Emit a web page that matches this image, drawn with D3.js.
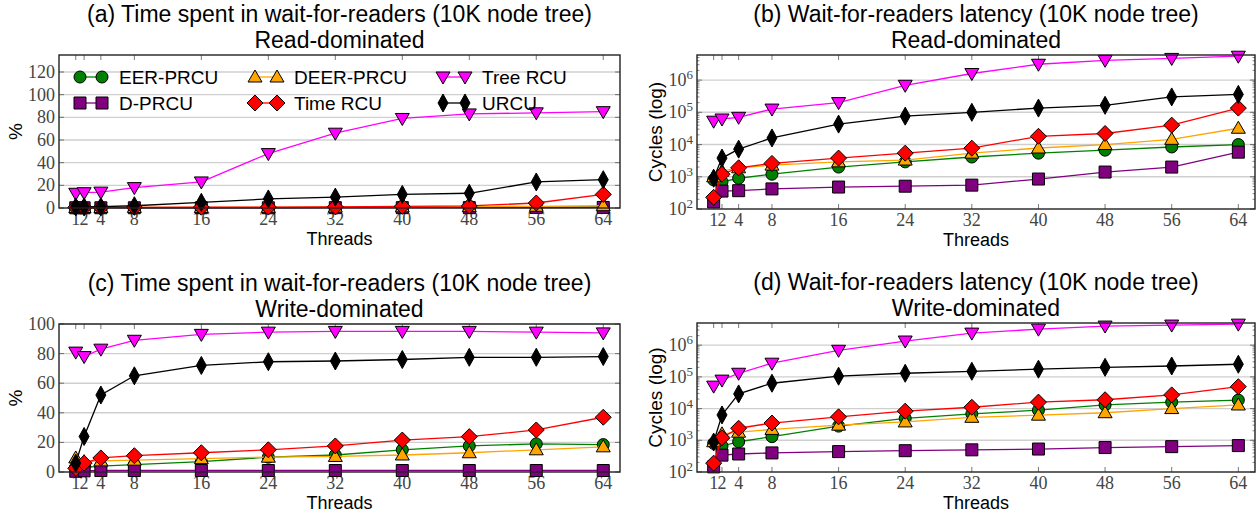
<!DOCTYPE html>
<html>
<head>
<meta charset="utf-8">
<script src="https://cdn.jsdelivr.net/npm/d3@7"></script>
<style>
body { margin: 0; background: #fff; }
svg { display: block; }
</style>
</head>
<body>
<script>
// thread counts on the x axis
const threads = [1, 2, 4, 8, 16, 24, 32, 40, 48, 56, 64];

const seriesNames = ["EER-PRCU", "D-PRCU", "DEER-PRCU", "Time RCU", "Tree RCU", "URCU"];
const seriesColors = ["#008000", "#800080", "#ffa500", "#ff0000", "#ff00ff", "#000000"];
const seriesShapes = ["circle", "square", "triUp", "diamond", "triDown", "thinDiamond"];

// (a) % time in wait-for-readers, read-dominated
const aEER   = [0.3, 0.3, 0.3, 0.3, 0.4, 0.4, 0.5, 0.6, 0.7, 0.8, 1.0];
const aDPRCU = [0.2, 0.2, 0.2, 0.2, 0.2, 0.2, 0.3, 0.3, 0.3, 0.4, 0.5];
const aDEER  = [0.4, 0.4, 0.4, 0.5, 0.5, 0.6, 0.8, 1.0, 1.2, 1.5, 2.0];
const aTime  = [0.5, 0.5, 0.5, 0.6, 0.7, 0.8, 1.0, 1.5, 1.8, 4.4, 12];
const aTree  = [13, 13.5, 14, 18, 23, 48, 66, 79, 83, 84, 85];
const aURCU  = [1, 1, 1.2, 2, 5, 8, 9.6, 12, 13, 23, 25];

// (b) wait-for-readers latency in cycles, read-dominated
const bEER   = [800, 700, 900, 1200, 2000, 2900, 4100, 5400, 6700, 8400, 10000];
const bDPRCU = [165, 360, 370, 420, 480, 510, 550, 850, 1400, 2000, 5800];
const bDEER  = [1000, 1500, 1900, 2300, 2900, 3300, 5400, 7800, 10000, 14500, 32000];
const bTime  = [230, 1200, 1900, 2600, 3800, 5400, 7700, 18000, 22000, 40000, 135000];
const bTree  = [53000, 62000, 70000, 126000, 200000, 690000, 1600000, 3100000, 4100000, 4700000, 5500000];
const bURCU  = [900, 3800, 7200, 16000, 43000, 76000, 100000, 135000, 165000, 300000, 360000];

// (c) % time in wait-for-readers, write-dominated
const cEER   = [3, 3, 4, 5, 7, 10, 11.5, 15, 17.6, 19, 18.5];
const cDPRCU = [0.5, 0.8, 1, 1, 1, 1, 1, 1, 1, 1, 1];
const cDEER  = [9.5, 7, 7.5, 8, 9, 10, 10.5, 11.5, 13, 15, 17];
const cTime  = [2.5, 6, 9.5, 11, 13, 15, 17.6, 21.6, 23.9, 28.4, 37];
const cTree  = [81, 78, 83, 89, 93, 94.5, 95, 95, 95, 94.5, 94];
const cURCU  = [6, 24, 52, 65, 72, 74.5, 75, 76, 77.5, 77.5, 78];

// (d) wait-for-readers latency in cycles, write-dominated
const dEER   = [800, 660, 900, 1300, 2800, 4900, 6800, 8900, 13000, 16000, 18500];
const dDPRCU = [145, 340, 370, 400, 440, 470, 500, 530, 590, 630, 680];
const dDEER  = [900, 1600, 1800, 2200, 3000, 3800, 5300, 6200, 7400, 10000, 13000];
const dTime  = [190, 1200, 2400, 3500, 5500, 8300, 11000, 16000, 19000, 27000, 49000];
const dTree  = [51000, 79000, 130000, 270000, 690000, 1350000, 2400000, 3200000, 4000000, 4300000, 4600000];
const dURCU  = [880, 6300, 29000, 63000, 105000, 130000, 150000, 175000, 200000, 220000, 250000];

const pctTicks = [0, 20, 40, 60, 80, 100, 120];
const logTicks = [1e2, 1e3, 1e4, 1e5, 1e6];

const W = 1260, H = 512;
const sans = "'Liberation Sans', Arial, sans-serif";
const serif = "'Liberation Serif', 'DejaVu Serif', serif";

const svg = d3.select("body").append("svg")
    .attr("width", W)
    .attr("height", H);

const panels = [
    { title: "(a) Time spent in wait-for-readers (10K node tree)", sub: "Read-dominated",
      box: [59, 620, 55, 208], log: false, ymax: 135, ylabel: "%",
      data: [aEER, aDPRCU, aDEER, aTime, aTree, aURCU], legend: true },
    { title: "(b) Wait-for-readers latency (10K node tree)", sub: "Read-dominated",
      box: [697, 1255, 55, 209], log: true, ymax: 6e6, ylabel: "Cycles (log)",
      data: [bEER, bDPRCU, bDEER, bTime, bTree, bURCU] },
    { title: "(c) Time spent in wait-for-readers (10K node tree)", sub: "Write-dominated",
      box: [59, 620, 324, 472], log: false, ymax: 100, ylabel: "%",
      data: [cEER, cDPRCU, cDEER, cTime, cTree, cURCU] },
    { title: "(d) Wait-for-readers latency (10K node tree)", sub: "Write-dominated",
      box: [697, 1255, 323, 472], log: true, ymax: 5e6, ylabel: "Cycles (log)",
      data: [dEER, dDPRCU, dDEER, dTime, dTree, dURCU] }
];

// marker paths centred on 0,0
function markerPath(shape) {
    switch (shape) {
        case "circle": return "M6,0A6,6 0 1,1 -6,0A6,6 0 1,1 6,0Z";
        case "square": return "M-6,-6H6V6H-6Z";
        case "triUp": return "M0,-7L7,5H-7Z";
        case "triDown": return "M0,7L7,-5H-7Z";
        case "diamond": return "M0,-8L8,0L0,8L-8,0Z";
        case "thinDiamond": return "M0,-9L5,0L0,9L-5,0Z";
    }
}

panels.forEach(p => {
    const [x0, x1, y0, y1] = p.box;
    const g = svg.append("g");

    const x = d3.scaleLinear().domain([-1, 66]).range([x0, x1]);
    const y = p.log
        ? d3.scaleLog().domain([100, p.ymax]).range([y1, y0])
        : d3.scaleLinear().domain([0, p.ymax]).range([y1, y0]);
    const yt = p.log ? logTicks : pctTicks.filter(v => v <= p.ymax);

    // grid
    g.selectAll(".grid").data(yt.filter(v => v > y.domain()[0])).enter()
        .append("line")
        .attr("x1", x0).attr("x2", x1)
        .attr("y1", d => y(d)).attr("y2", d => y(d))
        .attr("stroke", "#cfcfcf").attr("stroke-width", 1.4);

    // inward ticks, x on bottom and top
    threads.forEach(t => {
        g.append("line").attr("x1", x(t)).attr("x2", x(t)).attr("y1", y1).attr("y2", y1 - 5)
            .attr("stroke", "#555").attr("stroke-width", 0.8);
        g.append("line").attr("x1", x(t)).attr("x2", x(t)).attr("y1", y0).attr("y2", y0 + 5)
            .attr("stroke", "#555").attr("stroke-width", 0.8);
    });
    yt.forEach(v => {
        g.append("line").attr("x1", x0).attr("x2", x0 + 5).attr("y1", y(v)).attr("y2", y(v))
            .attr("stroke", "#555").attr("stroke-width", 0.8);
        g.append("line").attr("x1", x1).attr("x2", x1 - 5).attr("y1", y(v)).attr("y2", y(v))
            .attr("stroke", "#555").attr("stroke-width", 0.8);
    });
    if (p.log) {
        const minor = [];
        for (let e = 2; e <= 6; e++)
            for (let m = 2; m <= 9; m++) {
                const v = m * Math.pow(10, e);
                if (v < p.ymax) minor.push(v);
            }
        minor.forEach(v => {
            g.append("line").attr("x1", x0).attr("x2", x0 + 2.5).attr("y1", y(v)).attr("y2", y(v))
                .attr("stroke", "#555").attr("stroke-width", 0.7);
            g.append("line").attr("x1", x1).attr("x2", x1 - 2.5).attr("y1", y(v)).attr("y2", y(v))
                .attr("stroke", "#555").attr("stroke-width", 0.7);
        });
    }

    // tick labels
    g.selectAll(".xl").data(threads).enter().append("text")
        .attr("x", d => x(d)).attr("y", y1 + 17)
        .attr("text-anchor", "middle")
        .style("font-family", serif).style("font-size", "18px").attr("fill", "#444")
        .text(d => d);
    yt.forEach(v => {
        const t = g.append("text")
            .attr("x", x0 - 4).attr("y", y(v) + 6)
            .attr("text-anchor", "end")
            .style("font-family", serif).style("font-size", "18px").attr("fill", "#444");
        if (p.log) {
            t.append("tspan").text("10");
            t.append("tspan").attr("dy", -7).style("font-size", "13px").text(Math.round(Math.log10(v)));
        } else {
            t.text(v);
        }
    });

    // axis labels and titles
    g.append("text").attr("x", (x0 + x1) / 2).attr("y", y1 + 37)
        .attr("text-anchor", "middle").style("font-family", sans).style("font-size", "18px")
        .text("Threads");
    const lx = p.log ? x0 - 35 : x0 - 37;
    g.append("text").attr("transform", `translate(${lx},${(y0 + y1) / 2}) rotate(-90)`)
        .attr("text-anchor", "middle").style("font-family", sans).style("font-size", "19px")
        .text(p.ylabel);
    g.append("text").attr("x", (x0 + x1) / 2).attr("y", y0 - 33)
        .attr("text-anchor", "middle").style("font-family", sans).style("font-size", "23px")
        .text(p.title);
    g.append("text").attr("x", (x0 + x1) / 2).attr("y", y0 - 7)
        .attr("text-anchor", "middle").style("font-family", sans).style("font-size", "23px")
        .text(p.sub);

    // series
    const line = d3.line().x((d, i) => x(threads[i])).y(d => y(d));
    p.data.forEach((vals, si) => {
        g.append("path").datum(vals)
            .attr("d", line)
            .attr("fill", "none")
            .attr("stroke", seriesColors[si])
            .attr("stroke-width", 1.3);
        g.selectAll(".m" + si).data(vals).enter().append("path")
            .attr("transform", (d, i) => `translate(${x(threads[i])},${y(d)})`)
            .attr("d", markerPath(seriesShapes[si]))
            .attr("fill", seriesColors[si])
            .attr("stroke", "#000")
            .attr("stroke-width", 1);
    });

    // frame
    g.append("rect").attr("x", x0).attr("y", y0).attr("width", x1 - x0).attr("height", y1 - y0)
        .attr("fill", "none").attr("stroke", "#222").attr("stroke-width", 1.4);

    if (p.legend) {
        // columns: [EER, D-PRCU], [DEER, Time RCU], [Tree RCU, URCU]
        const colX = [x0 + 21, x0 + 196, x0 + 384];
        const rowY = [y0 + 22, y0 + 48];
        seriesNames.forEach((name, si) => {
            const order = [0, 2, 4, 1, 3, 5].indexOf(si);
            const cx = colX[order % 3], cy = rowY[Math.floor(order / 3)];
            const lg = g.append("g");
            lg.append("line").attr("x1", cx).attr("x2", cx + 22).attr("y1", cy).attr("y2", cy)
                .attr("stroke", seriesColors[si]).attr("stroke-width", 1.3);
            [cx, cx + 22].forEach(mx => lg.append("path")
                .attr("transform", `translate(${mx},${cy})`)
                .attr("d", markerPath(seriesShapes[si]))
                .attr("fill", seriesColors[si]).attr("stroke", "#000").attr("stroke-width", 1));
            lg.append("text").attr("x", cx + 39).attr("y", cy + 7)
                .style("font-family", sans).style("font-size", "19px")
                .text(name);
        });
    }
});
</script>
</body>
</html>
